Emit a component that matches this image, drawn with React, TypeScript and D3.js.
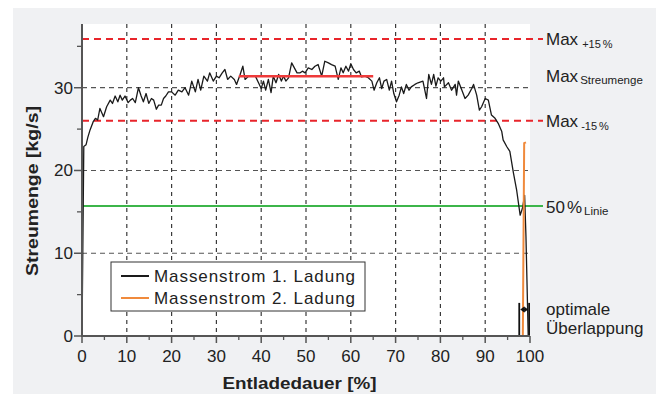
import React from "react";
import * as d3 from "d3";

const blackX = [0,0.4,0.9,1.3,1.8,2.5,3.0,3.5,4.0,4.8,5.5,6.3,6.8,7.4,8.0,8.5,9.0,9.6,10.3,10.8,11.3,11.9,12.6,13.2,13.7,14.3,14.9,15.5,16.0,16.6,17.1,17.7,18.2,18.7,19.3,20.0,20.8,21.5,22.3,23.0,23.8,24.5,25.3,25.9,26.5,27.2,28.0,28.5,29.3,30.0,30.6,31.3,31.9,32.5,33.2,34.0,34.5,35.3,35.9,36.4,37.2,37.9,38.7,39.4,40.0,40.5,41.0,41.6,42.2,42.7,43.3,43.9,44.5,45.0,45.5,46.1,46.8,47.4,48.0,48.7,49.2,49.8,50.5,51.3,52.0,52.7,53.5,54.2,55.0,55.7,56.5,57.2,57.8,58.3,58.9,59.5,60.0,60.6,61.2,61.9,62.4,63.2,63.9,64.7,65.2,65.8,66.4,66.9,67.4,68.0,68.6,69.1,69.6,70.2,70.8,71.3,71.8,72.4,73.0,73.5,74.3,75.0,76.1,76.9,77.4,78.0,78.5,79.0,79.5,80.1,80.7,80.9,81.8,82.5,83.3,83.6,84.0,84.8,85.5,86.2,87.0,87.4,88.1,88.7,89.2,90.0,90.7,91.4,92.2,92.9,93.7,94.0,94.8,95.5,96.3,97.0,97.8,98.3,98.8,99.1,99.6];
const blackY = [0,22.9,23.1,24.0,24.9,25.9,26.3,26.1,27.5,26.5,27.7,28.5,28.1,29.0,28.3,29.1,28.5,29.0,28.2,28.5,28.7,28.2,30.0,29.0,28.3,29.3,28.1,28.7,28.5,27.4,27.9,27.9,28.7,29.0,29.5,29.5,29.1,29.7,29.5,30.0,29.1,30.8,29.5,31.0,29.7,31.4,30.8,31.8,30.8,31.4,31.2,31.8,32.2,31.0,31.4,31.0,30.4,31.6,32.6,31.0,31.4,31.4,31.4,30.6,29.9,30.8,29.7,31.0,29.4,31.4,30.6,31.6,30.8,31.4,30.8,31.2,33.0,32.4,31.8,31.8,32.0,31.8,32.4,32.2,32.6,32.8,31.4,33.2,33.0,32.8,32.6,31.0,32.4,31.8,32.6,32.0,32.9,32.2,31.8,32.0,31.3,31.4,31.2,30.8,29.7,30.6,31.2,29.9,30.8,31.0,29.7,30.8,29.3,28.3,29.1,30.1,29.3,30.4,29.7,30.1,30.4,30.6,30.8,28.7,31.6,30.4,31.6,30.2,31.2,30.8,31.2,30.1,30.6,29.7,30.4,29.1,30.8,29.7,28.7,29.1,29.9,30.4,29.1,27.3,27.7,28.7,28.5,26.7,26.3,25.7,24.7,23.7,22.9,22.3,19.7,17.7,14.6,15.4,17.0,12.0,0];

const orangeX = [98.4, 98.7, 99.1];
const orangeY = [0, 23.3, 23.4];

const xTicks = [0,10,20,30,40,50,60,70,80,90,100];
const xMinor = [5,15,25,35,45,55,65,75,85,95];
const yTicks = [0,10,20,30];
const yMinor = [5,15,25,35];
const xGrid = [10,20,30,40,50,60,70,80,90];
const yGrid = [10,20,30];

const maxPlus = 35.9;
const maxStreu = 31.4;
const maxStreuRange = [35, 65];
const maxMinus = 26.0;
const halfLine = 15.7;
const overlap = [97.6, 99.8];
const overlapTop = 4.0;
const arrowVal = 3.2;

const legendLabels = ["Massenstrom 1. Ladung", "Massenstrom 2. Ladung"];
const legendColors = ["#1a1a1a", "#f08a3c"];

export default function App() {
  const x = d3.scaleLinear().domain([0, 100]).range([82, 530]);
  const y = d3.scaleLinear().domain([0, 37.7]).range([336, 24]);
  const font = "'Liberation Sans', Arial, Helvetica, sans-serif";
  const line = d3.line<number>().x((_, i) => x(blackX[i])).y((d) => y(d));
  const oline = d3.line<number>().x((_, i) => x(orangeX[i])).y((d) => y(d));
  const red = "#e8252b";
  const gridC = "#3a3a3a";
  const axisC = "#555";
  const txt = "#222";
  const labX = 546;
  const ax1 = x(overlap[0]) + 1;
  const ax2 = x(overlap[1]) - 1;
  const ay = y(arrowVal);
  return (
    <svg width={661} height={394} style={{ position: "absolute", left: 0, top: 0 }} fontFamily={font}>
      <rect x={13} y={8} width={643} height={386} fill="#f0f1f3" />
      <rect x={x(0)} y={y(37.7)} width={x(100) - x(0)} height={y(0) - y(37.7)} fill="#fff" />
      {xGrid.map((v) => (
        <line key={"xg" + v} x1={x(v)} x2={x(v)} y1={y(37.7)} y2={y(0)} stroke={gridC} strokeWidth={1.2} strokeDasharray="4,4" />
      ))}
      {yGrid.map((v) => (
        <line key={"yg" + v} x1={x(0)} x2={x(100)} y1={y(v)} y2={y(v)} stroke="#555" strokeWidth={1.2} strokeDasharray="5,4" />
      ))}
      {[maxPlus, maxMinus].map((v) => (
        <line key={"r" + v} x1={x(0)} x2={543} y1={y(v)} y2={y(v)} stroke={red} strokeWidth={2} strokeDasharray="7,5" />
      ))}
      <line x1={x(0)} x2={543} y1={y(halfLine)} y2={y(halfLine)} stroke="#3cb54a" strokeWidth={2} />
      <path d={line(blackY) || ""} fill="none" stroke="#1a1a1a" strokeWidth={1.3} strokeLinejoin="round" />
      <line x1={x(maxStreuRange[0])} x2={x(maxStreuRange[1])} y1={y(maxStreu)} y2={y(maxStreu)} stroke="#ef3a3a" strokeWidth={2.5} />
      <path d={oline(orangeY) || ""} fill="none" stroke="#f08a3c" strokeWidth={2} />
      {overlap.map((v) => (
        <line key={"ov" + v} x1={x(v)} x2={x(v)} y1={y(overlapTop)} y2={y(0)} stroke="#111" strokeWidth={1.8} />
      ))}
      <line x1={ax1 + 3} x2={ax2 - 3} y1={ay} y2={ay} stroke="#111" strokeWidth={1.3} />
      <path d={`M${ax1},${ay}L${ax1 + 4},${ay - 3}L${ax1 + 4},${ay + 3}Z`} fill="#111" />
      <path d={`M${ax2},${ay}L${ax2 - 4},${ay - 3}L${ax2 - 4},${ay + 3}Z`} fill="#111" />
      {/* axes */}
      <line x1={x(0)} x2={x(0)} y1={y(37.7)} y2={y(0) + 1} stroke={axisC} strokeWidth={2} />
      <line x1={x(0) - 1} x2={x(100)} y1={y(0)} y2={y(0)} stroke={axisC} strokeWidth={2} />
      {yTicks.map((v) => (
        <g key={"yt" + v}>
          <line x1={x(0) - 8} x2={x(0)} y1={y(v)} y2={y(v)} stroke={axisC} strokeWidth={1.5} />
          <text x={73} y={y(v) + 6} fontSize={17} textAnchor="end" fill={txt}>{v}</text>
        </g>
      ))}
      {yMinor.map((v) => (
        <line key={"ym" + v} x1={x(0) - 5} x2={x(0)} y1={y(v)} y2={y(v)} stroke={axisC} strokeWidth={1.3} />
      ))}
      {xTicks.map((v) => (
        <g key={"xt" + v}>
          <line x1={x(v)} x2={x(v)} y1={y(0)} y2={y(0) + 7} stroke={axisC} strokeWidth={1.5} />
          <text x={x(v)} y={361.5} fontSize={17} textAnchor="middle" fill={txt}>{v}</text>
        </g>
      ))}
      {xMinor.map((v) => (
        <line key={"xm" + v} x1={x(v)} x2={x(v)} y1={y(0)} y2={y(0) + 4} stroke={axisC} strokeWidth={1.3} />
      ))}
      <text x={299.5} y={389} fontSize={17} fontWeight="bold" textAnchor="middle" fill={txt} textLength={154} lengthAdjust="spacingAndGlyphs">Entladedauer [%]</text>
      <text transform="translate(37.5,191) rotate(-90)" fontSize={17} fontWeight="bold" textAnchor="middle" fill={txt} textLength={170} lengthAdjust="spacingAndGlyphs">Streumenge [kg/s]</text>
      {/* legend */}
      <rect x={111} y={262} width={254} height={49} fill="#fff" stroke="#333" strokeWidth={1} />
      {legendLabels.map((l, i) => (
        <g key={l}>
          <line x1={121} x2={149} y1={276 + i * 22} y2={276 + i * 22} stroke={legendColors[i]} strokeWidth={2} />
          <text x={154} y={282 + i * 22} fontSize={17} fill={txt} textLength={201} lengthAdjust="spacing">{l}</text>
        </g>
      ))}
      {/* right labels */}
      <text x={labX} y={45} fontSize={17} fill={txt}>Max<tspan dx={4} dy={3} fontSize={11}>+15</tspan><tspan dx={2} fontSize={11}>%</tspan></text>
      <text x={labX} y={81.5} fontSize={17} fill={txt}>Max<tspan dx={2} dy={2} fontSize={11.5}>Streumenge</tspan></text>
      <text x={labX} y={127} fontSize={17} fill={txt}>Max<tspan dx={3} dy={2.5} fontSize={11}>-15</tspan><tspan dx={2} fontSize={11}>%</tspan></text>
      <text x={labX} y={212.5} fontSize={17} fill={txt}>50<tspan dx={2}>%</tspan><tspan dx={2} dy={2} fontSize={11.5}>Linie</tspan></text>
      <text x={labX} y={314.5} fontSize={17} fill={txt}>optimale</text>
      <text x={labX} y={333.5} fontSize={17} fill={txt}>Überlappung</text>
    </svg>
  );
}
